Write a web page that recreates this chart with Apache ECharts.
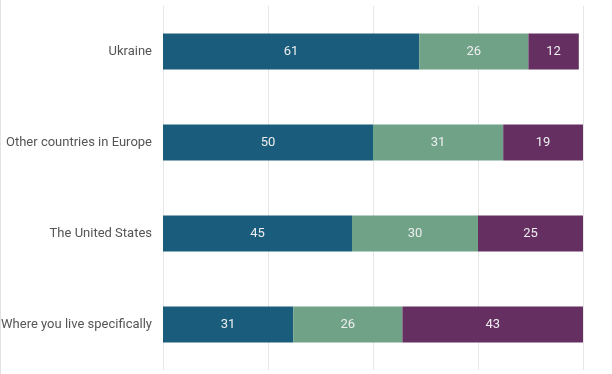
<!DOCTYPE html>
<html><head><meta charset="utf-8">
<script src="https://cdn.jsdelivr.net/npm/echarts@6/dist/echarts.min.js"></script>
<style>html,body{margin:0;padding:0;background:#fff}#c{width:611px;height:374px;border-left:1px solid #e3e3e3}</style>
</head><body><div id="c"></div>
<script>
const categories = ['Ukraine', 'Other countries in Europe', 'The United States', 'Where you live specifically'];
const seriesA = [61, 50, 45, 31];
const seriesB = [26, 31, 30, 26];
const seriesC = [12, 19, 25, 43];
const colors = ['#195c7b', '#6fa287', '#652f62'];
const chart = echarts.init(document.getElementById('c'));
function mk(data, i) {
  return {
    type: 'bar', stack: 'all', data: data, barWidth: 36,
    itemStyle: { color: colors[i] },
    label: { show: true, position: 'inside', color: '#eeeeee', fontFamily: 'Roboto', fontSize: 13 }
  };
}
chart.setOption({
  animation: false,
  grid: { left: 162, top: 6, width: 420, height: 364, containLabel: false, outerBoundsMode: 'none' },
  xAxis: { type: 'value', min: 0, max: 100, interval: 25, axisLabel: { show: false },
    splitLine: { lineStyle: { color: '#e6e6e6', width: 1 } }, axisLine: { show: false }, axisTick: { show: false } },
  yAxis: { type: 'category', data: categories, inverse: true,
    axisLine: { show: false }, axisTick: { show: false },
    axisLabel: { color: '#555', fontFamily: 'Roboto', fontSize: 13, margin: 11 } },
  series: [mk(seriesA, 0), mk(seriesB, 1), mk(seriesC, 2)]
});
</script></body></html>
